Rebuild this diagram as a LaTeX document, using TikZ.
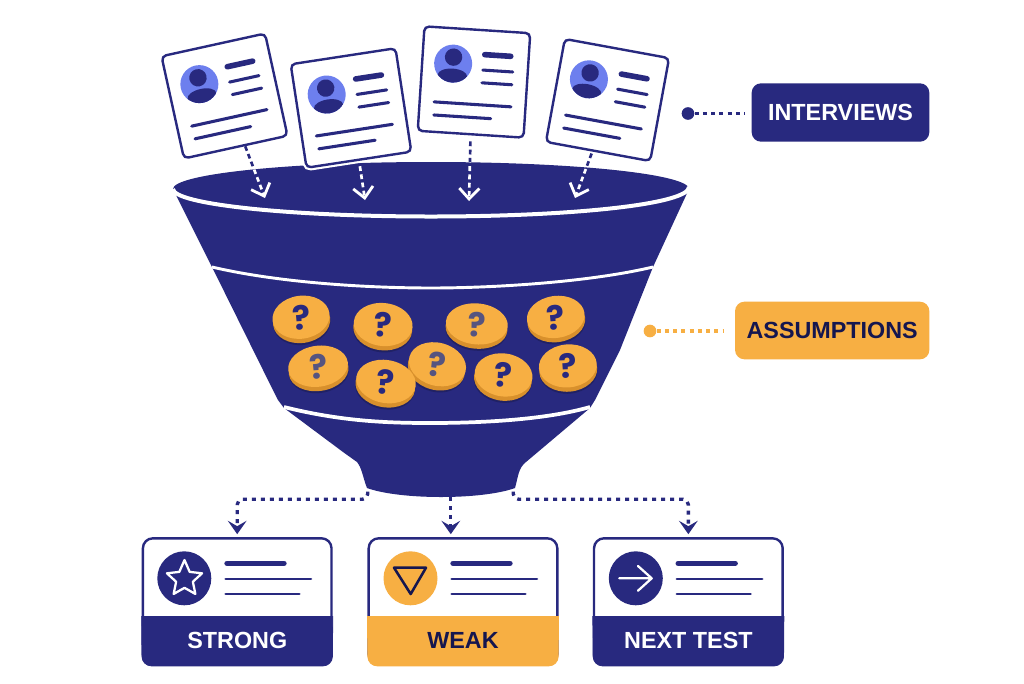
\documentclass[tikz,border=0pt]{standalone}
\usepackage{fontspec}
\setmainfont{Liberation Sans}
\newfontfamily\markfont{Poppins}
\usetikzlibrary{arrows.meta,calc}
\definecolor{navy}{HTML}{28297F}
\definecolor{ink}{HTML}{15164F}
\definecolor{amber}{HTML}{F7AF43}
\definecolor{amberdk}{HTML}{D8902C}
\definecolor{sky}{HTML}{6D7FEE}
\definecolor{qfade}{HTML}{565480}
\tikzset{
  px/.style={x=0.75pt,y=-0.75pt},
  cardnode/.style={draw=navy,fill=white,line width=1.8pt,rounded corners=3.5pt,minimum width=79.5pt,minimum height=78.5pt,inner sep=0pt,
    preaction={draw=white,line width=5pt}},
  thickbar/.style={navy,line width=4.2pt,line cap=round},
  thinbar/.style={navy,line width=2.3pt,line cap=round},
  dropline/.style={line width=2pt,dash pattern=on 3.6pt off 2.6pt,
    -{Straight Barb[length=8pt,width=15pt,line width=2.1pt]}},
  exitline/.style={navy,line width=2.5pt,dash pattern=on 3pt off 3.75pt,rounded corners=4pt,shorten >=2.2pt,
    -{Stealth[length=10pt,width=14pt,inset=4pt]}},
  tagbox/.style={rounded corners=7pt,inner sep=0pt,text height=12.6pt,text depth=0pt,font=\fontsize{17.5}{20}\selectfont\bfseries},
  tagdot/.style={circle,inner sep=0pt,minimum size=9.5pt},
  tagline/.style={line width=2.6pt,dash pattern=on 3pt off 3.2pt},
  resultcard/.style={draw=navy,fill=white,line width=1.8pt,rounded corners=7.5pt,minimum width=141.5pt,minimum height=94.5pt,inner sep=0pt},
  bandtext/.style={font=\fontsize{17.5}{20}\selectfont\bfseries,inner sep=0pt},
  coinmark/.style={font=\markfont\fontsize{25}{28}\selectfont\bfseries,inner sep=0pt},
}
% name, x, y, rotation
\newcommand{\pcard}[4]{%
  \node[cardnode,rotate=#4] (#1) at (#2,#3) {};
  \begin{scope}[shift={(#2,#3)},rotate=#4]
    \fill[sky] (-22,-17) circle (19);
    \begin{scope}
      \clip (-22,-17) circle (19);
      \fill[navy] (-22,-23.5) circle (8.7);
      \fill[navy] (-22,-5) ellipse (14.7 and 7);
    \end{scope}
    \draw[thickbar] (9,-28) -- (35,-28);
    \draw[thinbar] (8,-12.5) -- (38,-12.5);
    \draw[thinbar] (8,0.3) -- (38,0.3);
    \draw[thinbar] (-38.5,22.4) -- (38.5,22.4);
    \draw[thinbar] (-38,35.5) -- (19,35.5);
  \end{scope}}
% name, x, y, rx, ry, rotation, mark colour
\newcommand{\coin}[7]{%
  \begin{scope}[shift={(#2,#3)},rotate=#6]
    \fill[navy!80!black] (0,4.5) ellipse (#4 and #5);
    \fill[amberdk] (0,2.5) ellipse (#4 and #5);
    \fill[amber] (0,-1.8) ellipse (#4 and #5);
  \end{scope}
  \node[coinmark,text=#7,rotate=#6/2] (#1) at (#2,#3-1.5) {?};}
\begin{document}
\begin{tikzpicture}[px]
\useasboundingbox (0,0) rectangle (1024,683);
\fill[white] (0,0) rectangle (1024,683);

% funnel
\fill[navy] (173,189) -- (212,267) -- (263,370) -- (278,400) -- (284,408) -- (343,452) -- (357,462)
  .. controls (362,468) and (363,478) .. (367,488)
  .. controls (400,500) and (482,500) .. (515,488)
  .. controls (518,478) and (518,468) .. (526,462)
  -- (590,408) -- (595,400) -- (620,350) -- (653,267) -- (689,189) -- cycle;
\fill[navy] (431,189) ellipse (258 and 27);
\draw[white,line width=3pt] (173,189) .. controls (173,204) and (288,216.5) .. (431,216.5) .. controls (574,216.5) and (689,204) .. (689,187);
\draw[white,line width=2.2pt] (212,267) .. controls (280,283) and (370,288) .. (431,288) .. controls (495,288) and (590,282) .. (653,267);
\draw[white,line width=2.8pt] (284,407) .. controls (340,421) and (385,423) .. (430,423) .. controls (480,423) and (545,420) .. (590,407);
\coordinate (exitL) at (367.7,491.7);
\coordinate (exitM) at (450.8,497);
\coordinate (exitR) at (513.3,491.7);

% interview cards
\pcard{pa}{224.5}{96}{12.4}
\pcard{pc}{474}{82}{-3.7}
\pcard{pd}{607.5}{100}{-10.4}
\pcard{pb}{351}{108}{8.7}

\coordinate (ea) at (265,198);
\coordinate (eb) at (365,200);
\coordinate (ec) at (469,201);
\coordinate (ed) at (575,198);
\draw[dropline,navy] (pa.-80) -- (ea);
\draw[dropline,navy,shorten <=4pt] (pb.south) -- (eb);
\draw[dropline,navy,shorten <=4.5pt] (pc.south) -- (ec);
\draw[dropline,navy,shorten <=1.5pt] (pd.-96) -- (ed);
\begin{scope}
  \clip (431,189) ellipse (258 and 27);
  \draw[dropline,white] (pa.-80) -- (ea);
  \draw[dropline,white,shorten <=4pt] (pb.south) -- (eb);
  \draw[dropline,white,shorten <=4.5pt] (pc.south) -- (ec);
  \draw[dropline,white,shorten <=1.5pt] (pd.-96) -- (ed);
\end{scope}

% coins
\coin{qa}{301.3}{319}{28.7}{21.5}{8}{navy}
\coin{qb}{383}{326.3}{29.5}{21.5}{-6}{navy}
\coin{qc}{476.7}{325.7}{31}{20.5}{-5}{qfade}
\coin{qd}{556}{318.7}{29}{21}{8}{navy}
\coin{qe}{318.3}{368}{30}{20.5}{8}{qfade}
\coin{qf}{437}{366}{29}{21.5}{-15}{qfade}
\coin{qg}{385.7}{383.3}{30}{21.5}{-10}{navy}
\coin{qh}{503.3}{376.7}{29}{21.5}{-8}{navy}
\coin{qi}{568}{367.7}{29}{21.5}{5}{navy}

% side tags
\node[tagbox,fill=navy,text=white,minimum width=133.2pt,minimum height=43.8pt] (interviews) at (840.5,112.5) {INTERVIEWS};
\node[tagdot,fill=navy] (idot) at (688,113.5) {};
\draw[tagline,navy,shorten >=4.5pt] (idot) -- (idot -| interviews.west);
\node[tagbox,fill=amber,text=ink,minimum width=145.7pt,minimum height=43.2pt] (assumptions) at (832.2,330.5) {ASSUMPTIONS};
\node[tagdot,fill=amber] (adot) at (650,331) {};
\draw[tagline,amber,shorten >=8pt] (adot) -- (adot -| assumptions.west);

% result cards
\node[resultcard] (ka) at (237.2,601.3) {};
\node[resultcard] (kb) at (463,601.3) {};
\node[resultcard] (kc) at (688.35,601.3) {};
\path[fill=navy,draw=navy,line width=0.6pt,rounded corners=7pt] (ka.west |- 0,616) -- ($(ka.south west)+(0.3pt,-0.3pt)$) -- ($(ka.south east)+(-0.3pt,-0.3pt)$) -- (ka.east |- 0,616);
\path[fill=amber,draw=amber,line width=0.6pt,rounded corners=7pt] (kb.west |- 0,616) -- ($(kb.south west)+(0.3pt,-0.3pt)$) -- ($(kb.south east)+(-0.3pt,-0.3pt)$) -- (kb.east |- 0,616);
\path[fill=navy,draw=navy,line width=0.6pt,rounded corners=7pt] (kc.west |- 0,616) -- ($(kc.south west)+(0.3pt,-0.3pt)$) -- ($(kc.south east)+(-0.3pt,-0.3pt)$) -- (kc.east |- 0,616);
\node[bandtext,text=white] (ta) at (237.3,640.5) {STRONG};
\node[bandtext,text=ink] (tb) at (463,640.5) {WEAK};
\node[bandtext,text=white] (tc) at (688.4,640.5) {NEXT TEST};

\fill[navy] (184.3,578.3) circle (27);
\fill[amber] (410.5,578.3) circle (27);
\fill[navy] (635.8,578.3) circle (27);
\draw[white,line width=1.7pt,line join=round] (184.5,560)
  \foreach \k in {1,...,9} { -- ($(184.5,579)+({90+36*\k}:{ifthenelse(mod(\k,2)==1,8.8,18.5)} and {ifthenelse(mod(\k,2)==1,-8.8,-18.5)})$) } -- cycle;
\draw[ink,line width=1.9pt,line join=round] (394,567.7) -- (426,567.7) -- (410.7,594) -- cycle;
\draw[white,line width=1.7pt,line cap=round,line join=round] (619.3,578.3) -- (651.7,578.3) (638,566) -- (651.7,578.3) -- (638,590.7);

\foreach \x/\e/\m in {224.3/312.3/300.7,450.3/538.3/526.7,675.5/763.5/751.9}{
  \draw[thickbar] ({\x+2.8},563.3) -- ({\x+59.6},563.3);
  \draw[navy,line width=2.1pt,line cap=round] ({\x+1.4},579) -- ({\e-1.4},579);
  \draw[navy,line width=2.1pt,line cap=round] ({\x+1.4},594) -- ({\m-1.4},594);
}

% exit connectors
\draw[exitline] (exitL) -- ++(0,7.6) -| (ka.north);
\draw[exitline] (exitM) -- (exitM |- kb.north);
\draw[exitline] (exitR) -- ++(0,7.6) -| (kc.north);
\end{tikzpicture}
\end{document}
